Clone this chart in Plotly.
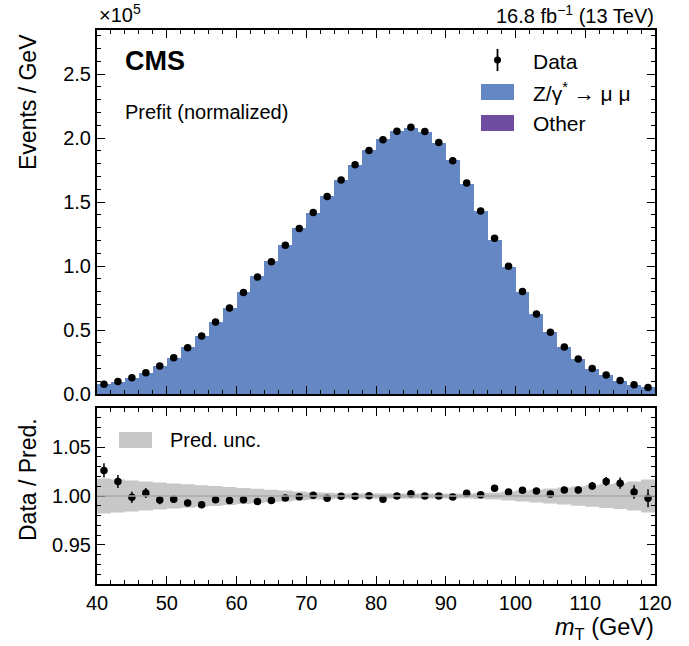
import plotly.graph_objects as go
from plotly.subplots import make_subplots

# ---------------- data ----------------
bin_edges = list(range(40, 122, 2))
bin_centers = [e + 1 for e in bin_edges[:-1]]

# observed events / GeV in units of 1e5
data = [0.077, 0.098, 0.127, 0.166, 0.218, 0.284, 0.362, 0.453, 0.563, 0.673,
        0.794, 0.914, 1.034, 1.162, 1.293, 1.418, 1.544, 1.672, 1.792, 1.904,
        1.988, 2.053, 2.085, 2.051, 1.965, 1.824, 1.649, 1.431, 1.217, 0.998,
        0.801, 0.626, 0.482, 0.367, 0.273, 0.200, 0.148, 0.106, 0.072, 0.051]

# data / prediction
ratio = [1.0262, 1.0148, 0.9986, 1.0031, 0.9959, 0.9966, 0.9928, 0.9910, 0.9962, 0.9955,
         0.9962, 0.9945, 0.9955, 0.9979, 0.9993, 1.0007, 0.9976, 0.9997, 0.9997, 1.0003,
         0.9966, 1.0000, 1.0024, 1.0000, 1.0000, 0.9990, 1.0028, 1.0014, 1.0079, 1.0041,
         1.0059, 1.0052, 1.0021, 1.0062, 1.0062, 1.0103, 1.0148, 1.0131, 1.0041, 0.9976]

# statistical error on the ratio
ratio_err = [0.0072, 0.0067, 0.0058, 0.0051, 0.0043, 0.0037, 0.0032, 0.0029, 0.0026, 0.0024,
             0.0022, 0.0020, 0.0019, 0.0018, 0.0017, 0.0016, 0.0015, 0.0015, 0.0014, 0.0014,
             0.0014, 0.0014, 0.0014, 0.0014, 0.0014, 0.0015, 0.0016, 0.0017, 0.0018, 0.0020,
             0.0022, 0.0025, 0.0028, 0.0032, 0.0035, 0.0041, 0.0047, 0.0058, 0.0068, 0.0092]

# relative prediction uncertainty
pred_unc = [0.0178, 0.0168, 0.0158, 0.0148, 0.0138, 0.0128, 0.0119, 0.0110, 0.0101, 0.0092,
            0.0083, 0.0074, 0.0065, 0.0056, 0.0047, 0.0039, 0.0033, 0.0028, 0.0025, 0.0023,
            0.0022, 0.0021, 0.0021, 0.0021, 0.0022, 0.0023, 0.0025, 0.0030, 0.0036, 0.0046,
            0.0056, 0.0066, 0.0077, 0.0088, 0.0099, 0.0110, 0.0122, 0.0134, 0.0148, 0.0168]

# prediction derived from the data and the ratio
pred = [d / r for d, r in zip(data, ratio)]
data_err = [d * e / r for d, e, r in zip(data, ratio_err, ratio)]

BLUE = "#6588c5"
PURPLE = "#6e4c9f"
BAND = "#c8c8c8"
FONT = "Liberation Sans"

W, H = 689, 646
ML, MR, MT, MB = 97, 34, 30, 62
ph = H - MT - MB
top_dom = [(H - MB - 394) / ph, 1.0]
bot_dom = [0.0, (H - MB - 408) / ph]

fig = make_subplots(rows=2, cols=1, shared_xaxes=True)

fig.add_trace(go.Bar(x=bin_centers, y=pred, width=2, marker=dict(color=BLUE, line=dict(width=0)),
                     showlegend=False, hoverinfo="skip"), row=1, col=1)
fig.add_trace(go.Scatter(x=bin_centers, y=data, mode="markers",
                         marker=dict(color="black", size=7.5),
                         error_y=dict(type="data", array=data_err, color="black", thickness=1.5, width=0),
                         showlegend=False), row=1, col=1)

# stepped uncertainty band
bx, byu, byl = [], [], []
for i, u in enumerate(pred_unc):
    bx += [bin_edges[i], bin_edges[i + 1]]
    byu += [1 + u, 1 + u]
    byl += [1 - u, 1 - u]
fig.add_trace(go.Scatter(x=bx + bx[::-1], y=byu + byl[::-1], fill="toself", fillcolor=BAND,
                         line=dict(width=0), mode="lines", showlegend=False, hoverinfo="skip"),
              row=2, col=1)
fig.add_hline(y=1.0, line=dict(color="#a8a8a8", width=1.5), row=2, col=1)
fig.add_trace(go.Scatter(x=bin_centers, y=ratio, mode="markers",
                         marker=dict(color="black", size=7.5),
                         error_y=dict(type="data", array=ratio_err, color="black", thickness=1.5, width=0),
                         showlegend=False), row=2, col=1)

axis_common = dict(showline=True, linecolor="black", linewidth=2, mirror="allticks",
                   ticks="inside", ticklen=8, tickwidth=1.2, tickcolor="black",
                   showgrid=False, zeroline=False,
                   tickfont=dict(family=FONT, size=20, color="black"))

fig.update_xaxes(range=[40, 120], dtick=10, tick0=40,
                 minor=dict(dtick=2, ticks="inside", ticklen=4, tickwidth=1, tickcolor="black"),
                 **axis_common)
fig.update_xaxes(showticklabels=False, row=1, col=1)
fig.update_xaxes(row=2, col=1, ticklabelstandoff=0)
fig.update_yaxes(range=[0, 2.845], dtick=0.5, tick0=0, tickformat=".1f",
                 minor=dict(dtick=0.1, ticks="inside", ticklen=4, tickwidth=1, tickcolor="black"),
                 domain=top_dom, row=1, col=1, **axis_common)
fig.update_yaxes(range=[0.91, 1.09], dtick=0.05, tick0=0.9, tickformat=".2f",
                 minor=dict(dtick=0.01, ticks="inside", ticklen=4, tickwidth=1, tickcolor="black"),
                 domain=bot_dom, row=2, col=1, **axis_common)
fig.update_layout(xaxis=dict(domain=[0, 1]), xaxis2=dict(domain=[0, 1]))

def px(x):
    return (x - ML) / (W - ML - MR)

def py(y):
    return (H - MB - y) / ph

ann = []
def text(x, y, s, size=17, xanchor="left", yanchor="middle", **kw):
    ann.append(dict(x=px(x), y=py(y), xref="paper", yref="paper", text=s, showarrow=False,
                    xanchor=xanchor, yanchor=yanchor, font=dict(family=FONT, size=size, color="black"), **kw))

text(97, 13, "×10<sup>5</sup>", size=20)
text(656, 14, "16.8 fb<sup>−1</sup> (13 TeV)", size=20, xanchor="right")
text(123, 61, "<b>CMS</b>", size=27)
text(123, 112, "Prefit (normalized)", size=20)
text(531, 61, "Data", size=21)
text(531, 92, "Z/γ<sup>*</sup> → μ μ", size=21)
text(531, 124, "Other", size=21)
text(168, 440, "Pred. unc.", size=20)
text(656, 628, "<i>m</i><sub>T</sub> (GeV)", size=23.5, xanchor="right")
ann.append(dict(x=px(28), y=py(102), xref="paper", yref="paper", text="Events / GeV", showarrow=False,
                textangle=-90, font=dict(family=FONT, size=23, color="black"), xanchor="center", yanchor="middle"))
ann.append(dict(x=px(28), y=py(480), xref="paper", yref="paper", text="Data / Pred.", showarrow=False,
                textangle=-90, font=dict(family=FONT, size=23, color="black"), xanchor="center", yanchor="middle"))

shapes = [
    dict(type="rect", xref="paper", yref="paper", x0=px(481), x1=px(514), y0=py(100), y1=py(84),
         fillcolor=BLUE, line=dict(width=0)),
    dict(type="rect", xref="paper", yref="paper", x0=px(481), x1=px(514), y0=py(131), y1=py(115),
         fillcolor=PURPLE, line=dict(width=0)),
    dict(type="rect", xref="paper", yref="paper", x0=px(119), x1=px(152), y0=py(448), y1=py(432),
         fillcolor=BAND, line=dict(width=0)),
    dict(type="line", xref="paper", yref="paper", x0=px(497.5), x1=px(497.5), y0=py(71), y1=py(49),
         line=dict(color="black", width=1.8)),
    dict(type="circle", xref="paper", yref="paper", x0=px(494), x1=px(501), y0=py(63.5), y1=py(56.5),
         fillcolor="black", line=dict(width=0)),
]

fig.update_layout(width=W, height=H, margin=dict(l=ML, r=MR, t=MT, b=MB),
                  plot_bgcolor="white", paper_bgcolor="white", bargap=0, showlegend=False,
                  annotations=ann, shapes=fig.layout.shapes + tuple(shapes) if fig.layout.shapes else shapes,
                  font=dict(family=FONT))

fig.write_html("out.html", config={"displayModeBar": False},
               post_script="document.body.style.margin='0';")
